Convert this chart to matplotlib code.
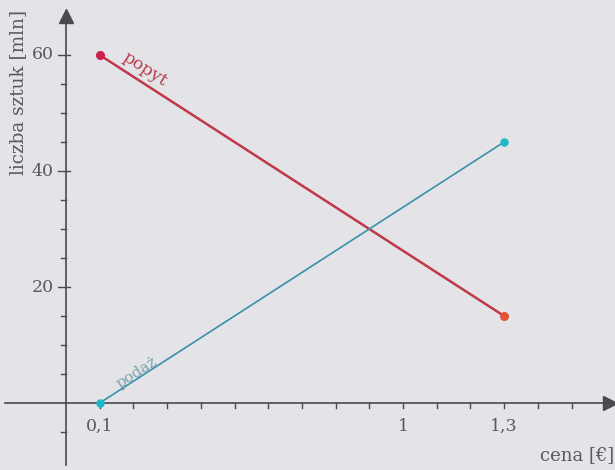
import matplotlib
matplotlib.use("Agg")
import matplotlib.pyplot as plt
import numpy as np

# data
demand_x = [0.1, 1.3]
demand_y = [60, 15]
supply_x = [0.1, 1.3]
supply_y = [0, 45]
x_tick_labels = {0.1: "0,1", 1.0: "1", 1.3: "1,3"}
y_major = [20, 40, 60]
y_minor = [5, 10, 15, 25, 30, 35, 45, 50, 55]

plt.rcParams['font.family'] = ['DejaVu Serif']
bg = '#e4e4e8'
axc = '#4a4a4e'
txt = '#5a5a5e'

fig = plt.figure(figsize=(6.15, 4.7), dpi=100, facecolor=bg)
ax = fig.add_axes([0, 0, 1, 1], facecolor=bg)
x0px, sx = 66, 337.0
y0px, sy = 403, 5.8
ax.set_xlim(-x0px / sx, (615 - x0px) / sx)
ax.set_ylim(-(470 - y0px) / sy, y0px / sy)
for s in ax.spines.values():
    s.set_visible(False)
ax.set_xticks([]); ax.set_yticks([])

# axes lines
ax.plot([-0.18, 1.60], [0, 0], color=axc, lw=1.2, zorder=2)
ax.plot([0, 0], [-10.7, 66], color=axc, lw=1.2, zorder=2)
ax.plot([1.615], [0], marker='>', color=axc, ms=10, zorder=3)
ax.plot([0], [66.8], marker='^', color=axc, ms=10, zorder=3)

# x ticks
for i in range(1, 16):
    xv = i / 10
    ax.plot([xv, xv], [0, -0.8], color=axc, lw=1, zorder=2)
for xv, lab in x_tick_labels.items():
    ax.text(xv, -2.6, lab, ha='center', va='top', fontsize=12.5, color=txt)

# y ticks
tl = 4 / sx
for yv in y_major:
    ax.plot([-2 * tl, tl], [yv, yv], color=axc, lw=1, zorder=2)
    ax.text(-3 * tl, yv, str(yv), ha='right', va='center', fontsize=12.5, color=txt)
for yv in y_minor:
    ax.plot([-tl * 1.3, 0], [yv, yv], color=axc, lw=1, zorder=2)
ax.plot([-tl * 1.3, 0], [-5, -5], color=axc, lw=1, zorder=2)

# lines
ax.plot(demand_x, demand_y, color='#c03848', lw=1.8, zorder=4)
ax.plot(supply_x, supply_y, color='#3a90aa', lw=1.2, zorder=4)
ax.scatter([demand_x[0]], [demand_y[0]], color='#cc2050', s=30, zorder=5)
ax.scatter([demand_x[1]], [demand_y[1]], color='#e05535', s=30, zorder=5)
ax.scatter(supply_x, supply_y, color='#20b8c8', s=26, zorder=5)

# labels on lines
ang_d = np.degrees(np.arctan2(-(demand_y[1] - demand_y[0]) * sy, (demand_x[1] - demand_x[0]) * sx))
ang_s = np.degrees(np.arctan2(-(supply_y[1] - supply_y[0]) * sy, (supply_x[1] - supply_x[0]) * sx))
ax.text(0.235, 57.6, "popyt", rotation=-ang_d, ha='center', va='center',
        fontsize=12.5, color='#b84050', rotation_mode='anchor')
ax.text(0.21, 5.2, "podaż", rotation=-ang_s, ha='center', va='center',
        fontsize=11, color='#4a8a90', alpha=0.7, rotation_mode='anchor')

ax.text((18 - x0px) / sx, (y0px - 10) / sy, "liczba sztuk [mln]", rotation=90, ha='center', va='top',
        fontsize=13.2, color=txt)
ax.text(1.625, -9.0, "cena [€]", ha='right', va='center', fontsize=13, color=txt)

fig.savefig("out.png", dpi=100, facecolor=bg)
